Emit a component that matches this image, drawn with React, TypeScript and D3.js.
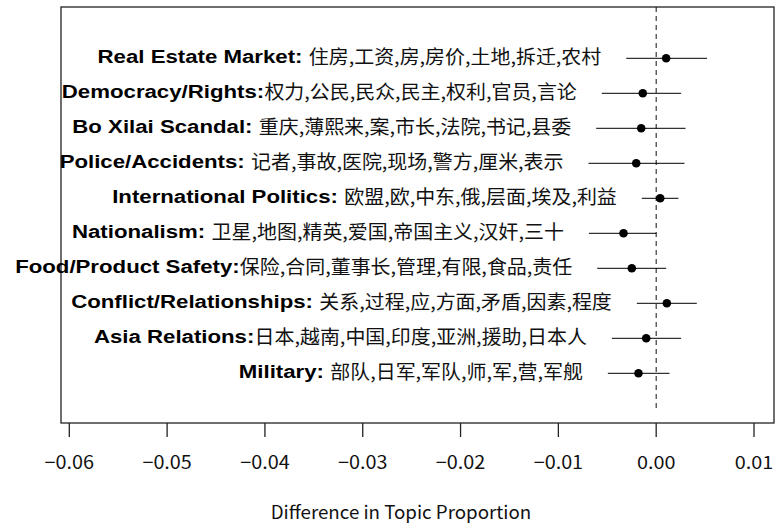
import React from "react";
import * as d3 from "d3";

const topics = [
  "Real Estate Market: ",
  "Democracy/Rights:",
  "Bo Xilai Scandal: ",
  "Police/Accidents: ",
  "International Politics: ",
  "Nationalism: ",
  "Food/Product Safety:",
  "Conflict/Relationships: ",
  "Asia Relations:",
  "Military: ",
];
const words = [
  "住房,工资,房,房价,土地,拆迁,农村",
  "权力,公民,民众,民主,权利,官员,言论",
  "重庆,薄熙来,案,市长,法院,书记,县委",
  "记者,事故,医院,现场,警方,厘米,表示",
  "欧盟,欧,中东,俄,层面,埃及,利益",
  "卫星,地图,精英,爱国,帝国主义,汉奸,三十",
  "保险,合同,董事长,管理,有限,食品,责任",
  "关系,过程,应,方面,矛盾,因素,程度",
  "日本,越南,中国,印度,亚洲,援助,日本人",
  "部队,日军,军队,师,军,营,军舰",
];
const estimates = [0.00102, -0.00137, -0.00153, -0.00204, 0.00041, -0.00334, -0.00249, 0.00109, -0.00102, -0.00181];
const lowers = [-0.00306, -0.00556, -0.00613, -0.00692, -0.00147, -0.00688, -0.00603, -0.00198, -0.00453, -0.00494];
const uppers = [0.0052, 0.00255, 0.003, 0.00289, 0.00228, 0.0, 0.00102, 0.00415, 0.00255, 0.00136];
const tickValues = [-0.06, -0.05, -0.04, -0.03, -0.02, -0.01, 0.0, 0.01];
const xTitle = "Difference in Topic Proportion";

const W = 775;
const H = 525;
const box = { left: 61, right: 774, top: 7, bottom: 423 };
const FS = 19;
const SX_EN = 1.17;
const SX_CN = 1.05;

let measureCtx: CanvasRenderingContext2D | null = null;
function measure(text: string, font: string): number {
  if (!measureCtx) {
    const c = document.createElement("canvas");
    measureCtx = c.getContext("2d");
  }
  if (!measureCtx) return text.length * FS;
  measureCtx.font = font;
  return measureCtx.measureText(text).width;
}

export default function App() {
  const x = d3.scaleLinear().domain([-0.06, 0.01]).range([69.3, 754]);
  const y = d3.scaleLinear().domain([0, 9]).range([58.3, 373.3]);
  const fmt = (v: number) => d3.format(".2f")(v);

  return (
    <svg width={W} height={H} style={{ position: "absolute", left: 0, top: 0, background: "#fff" }}>
      <rect x={0} y={0} width={W} height={H} fill="#fff" />
      <rect
        x={box.left}
        y={box.top}
        width={box.right - box.left}
        height={box.bottom - box.top}
        fill="none"
        stroke="#222"
        strokeWidth={1.3}
      />
      <line
        x1={x(0)}
        x2={x(0)}
        y1={box.top}
        y2={y(10)}
        stroke="#111"
        strokeWidth={1}
        strokeDasharray="5,4"
      />
      {topics.map((t, i) => {
        const yy = y(i);
        const cnW = measure(words[i], `${FS}px 'Noto Sans CJK SC'`) * SX_CN;
        const right = x(lowers[i]) - 25;
        return (
          <g key={i}>
            <line x1={x(lowers[i])} x2={x(uppers[i])} y1={yy} y2={yy} stroke="#000" strokeWidth={1} />
            <circle cx={x(estimates[i])} cy={yy} r={4.3} fill="#000" />
            <text
              transform={`translate(${right},${yy + 6}) scale(${SX_CN},1)`}
              textAnchor="end"
              fontFamily="'Noto Sans CJK SC'"
              fontSize={FS}
              fill="#111"
            >
              {words[i]}
            </text>
            <text
              transform={`translate(${right - cnW},${yy + 5}) scale(${SX_EN},1)`}
              textAnchor="end"
              fontFamily="'Liberation Sans', Arial, sans-serif"
              fontWeight="bold"
              fontSize={FS}
              fill="#000"
              style={{ whiteSpace: "pre" }}
            >
              {t}
            </text>
          </g>
        );
      })}
      {tickValues.map((v, i) => (
        <g key={i}>
          <line x1={x(v)} x2={x(v)} y1={box.bottom} y2={box.bottom + 14} stroke="#222" strokeWidth={1.3} />
          <text
            transform={`translate(${x(v)},${469}) scale(1.1,1)`}
            textAnchor="middle"
            fontFamily="'Noto Sans CJK JP'"
            fontSize={18}
            fill="#111"
          >
            {fmt(v)}
          </text>
        </g>
      ))}
      <text
        transform={`translate(401,519) scale(1.04,1)`}
        textAnchor="middle"
        fontFamily="'Noto Sans CJK JP'"
        fontSize={18}
        fill="#111"
      >
        {xTitle}
      </text>
    </svg>
  );
}
